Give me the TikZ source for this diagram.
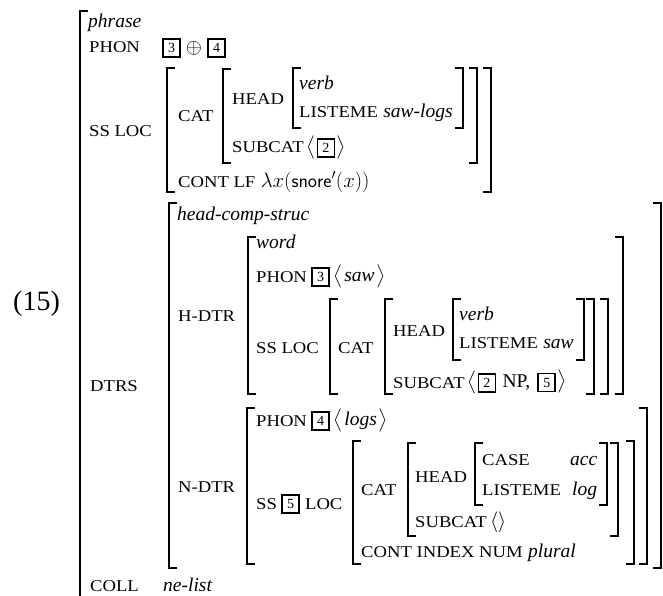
\documentclass[tikz,border=0pt]{standalone}
\usepackage{amsmath,amssymb}
\usepackage{fontspec}
\setmainfont{Liberation Serif}
\newfontfamily\featfont[FakeStretch=1.13]{Liberation Serif}
\usetikzlibrary{positioning}

\begin{document}
\begin{tikzpicture}[x=1pt,y=-1pt,
  txt/.style={inner sep=0pt, anchor=base west, font=\fontsize{19.5}{23}\selectfont},
  typ/.style={inner sep=0pt, anchor=base west, font=\fontsize{19.5}{23}\selectfont\itshape},
  feat/.style={inner sep=0pt, anchor=base west, font=\featfont\fontsize{16.5}{18}\selectfont},
  tag/.style={draw, line width=1.8pt, inner sep=0pt, minimum width=17pt, minimum height=18pt, font=\fontsize{14}{15}\selectfont},
  brk/.style={line width=1.3pt}]
  \useasboundingbox (0,0) rectangle (663,596);

  % Example number
  \node[txt, font=\fontsize{28}{32}\selectfont] (num) at (13,310) {(15)};

  % Mother
  \node[typ] (phr) at (88,28) {phrase};
  \node[feat] (phon) at (89,53) {PHON};
  \node[tag] (t3a) at (171.5,48) {3};
  \node[txt, anchor=center] (opl) at (194,48) {$\oplus$};
  \node[tag] (t4a) at (216.5,48) {4};
  \node[feat] (ssloc) at (89,137) {SS LOC};
  \node[feat] (cat) at (178,122) {CAT};
  \node[feat] (head) at (232,105) {HEAD};
  \node[typ] (verb) at (299,90) {verb};
  \node[feat] (lst) at (299,118) {LISTEME};
  \node[typ, base right=5pt of lst] (lstv) {saw-logs};
  \node[feat] (subc) at (232,153) {SUBCAT};
  \node[txt, base right=2pt of subc] (subl) {$\big\langle$};
  \node[tag, right=1pt of subl] (t2a) {2};
  \node[txt, base right=1pt of t2a] (subr) {$\big\rangle$};
  \node[feat] (cont) at (178,187) {CONT LF};
  \node[txt, base right=5pt of cont] (lf) {$\lambda x(\mathsf{snore}'(x))$};

  % Daughters
  \node[feat] (dtrs) at (90,391) {DTRS};
  \node[typ] (hcs) at (177,220) {head-comp-struc};

  % Head daughter
  \node[feat] (hdtr) at (178,321) {H-DTR};
  \node[typ] (word) at (256,248) {word};
  \node[feat] (hphon) at (256,282) {PHON};
  \node[tag, right=4pt of hphon] (t3b) {3};
  \node[typ, base right=3pt of t3b] (saw) {$\big\langle$\kern2pt saw\kern2pt$\big\rangle$};
  \node[feat] (hss) at (256,353) {SS LOC};
  \node[feat] (hcat) at (338,353) {CAT};
  \node[feat] (hhead) at (393,336) {HEAD};
  \node[typ] (hverb) at (459,320) {verb};
  \node[feat] (hlst) at (459,348) {LISTEME};
  \node[typ, base right=5pt of hlst] (hlstv) {saw};
  \node[feat] (hsub) at (393,388) {SUBCAT};
  \node[txt, base right=2pt of hsub] (hsubl) {$\big\langle$};
  \node[tag, right=1pt of hsubl] (t2b) {2};
  \node[txt, base right=6pt of t2b] (np) {NP,};
  \node[tag, right=7pt of np] (t5a) {5};
  \node[txt, base right=1pt of t5a] (hsubr) {$\big\rangle$};

  % Non-head daughter
  \node[feat] (ndtr) at (178,492) {N-DTR};
  \node[feat] (nphon) at (256,426) {PHON};
  \node[tag, right=4pt of nphon] (t4b) {4};
  \node[typ, base right=3pt of t4b] (logs) {$\big\langle$\kern2pt logs\kern2pt$\big\rangle$};
  \node[feat] (nss) at (256,509) {SS};
  \node[tag, right=4pt of nss] (t5b) {5};
  \node[feat, right=5pt of t5b, anchor=west] (nloc) {LOC};
  \node[feat] (ncat) at (361,495) {CAT};
  \node[feat] (nhead) at (415,482) {HEAD};
  \node[feat] (ncase) at (482,465) {CASE};
  \node[typ] (acc) at (570,465) {acc};
  \node[feat] (nlst) at (482,495) {LISTEME};
  \node[typ] (log) at (572,495) {log};
  \node[feat] (nsub) at (415,527) {SUBCAT};
  \node[txt, base right=3pt of nsub] (nil) {$\langle\rangle$};
  \node[feat] (ncont) at (361,557) {CONT INDEX NUM};
  \node[typ, base right=5pt of ncont] (plur) {plural};

  \node[feat] (coll) at (90,591) {COLL};
  \node[typ] (nel) at (163,591) {ne-list};

  % Left brackets: x/top/bottom
  \foreach \x/\t/\b in {80/11/610, 167/68/192, 223/69/163, 293/68/128,
      169/203/568, 248/237/394, 330/299/394, 385/299/394, 453/299/360,
      247/408/564, 353/441/564, 408/443/536, 475/443/505}
    \draw[brk] (\x+8,\t) -- (\x,\t) -- (\x,\b) -- (\x+8,\b);
  % Right brackets: x/top/bottom
  \foreach \x/\t/\b in {463/68/128, 477/68/163, 491/68/192,
      584/299/360, 594/299/394, 608/299/394, 623/237/394,
      607/443/505, 618/443/536, 634/441/564, 647/408/564, 661/203/568}
    \draw[brk] (\x-8,\t) -- (\x,\t) -- (\x,\b) -- (\x-8,\b);
\end{tikzpicture}
\end{document}
